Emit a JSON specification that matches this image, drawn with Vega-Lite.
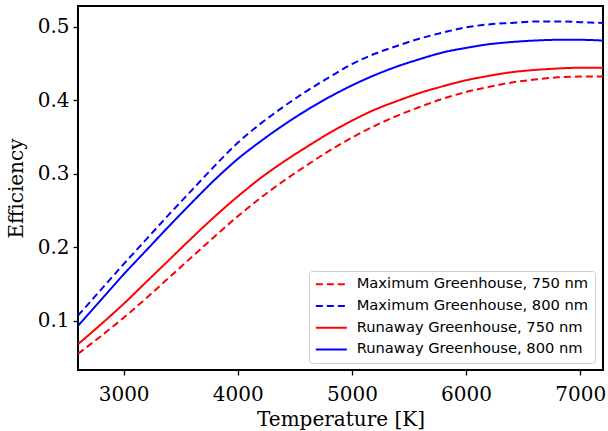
{
  "$schema": "https://vega.github.io/schema/vega-lite/v6.json",
  "width": 525,
  "height": 364,
  "autosize": {"type": "none"},
  "padding": {"left": 78, "top": 6, "right": 5, "bottom": 61},
  "background": "white",
  "config": {
    "view": {"stroke": "black", "strokeWidth": 2},
    "axis": {
      "domain": false,
      "grid": false,
      "labelFont": "DejaVu Serif",
      "labelFontSize": 20,
      "labelColor": "black",
      "titleFont": "DejaVu Serif",
      "titleFontSize": 20,
      "titleFontWeight": "normal",
      "titleColor": "black",
      "tickColor": "black",
      "tickSize": 5,
      "tickWidth": 1.3
    },
    "legend": {
      "labelFont": "DejaVu Sans",
      "labelFontSize": 14.7,
      "labelColor": "black",
      "labelLimit": 0
    }
  },
  "data": {"values": [
    {"series": "Maximum Greenhouse, 750 nm", "T": 2600, "eff": 0.055},
    {"series": "Maximum Greenhouse, 750 nm", "T": 2800, "eff": 0.079},
    {"series": "Maximum Greenhouse, 750 nm", "T": 3000, "eff": 0.104},
    {"series": "Maximum Greenhouse, 750 nm", "T": 3200, "eff": 0.131},
    {"series": "Maximum Greenhouse, 750 nm", "T": 3400, "eff": 0.159},
    {"series": "Maximum Greenhouse, 750 nm", "T": 3600, "eff": 0.187},
    {"series": "Maximum Greenhouse, 750 nm", "T": 3800, "eff": 0.215},
    {"series": "Maximum Greenhouse, 750 nm", "T": 4000, "eff": 0.242},
    {"series": "Maximum Greenhouse, 750 nm", "T": 4200, "eff": 0.267},
    {"series": "Maximum Greenhouse, 750 nm", "T": 4400, "eff": 0.290},
    {"series": "Maximum Greenhouse, 750 nm", "T": 4600, "eff": 0.311},
    {"series": "Maximum Greenhouse, 750 nm", "T": 4800, "eff": 0.331},
    {"series": "Maximum Greenhouse, 750 nm", "T": 5000, "eff": 0.349},
    {"series": "Maximum Greenhouse, 750 nm", "T": 5200, "eff": 0.365},
    {"series": "Maximum Greenhouse, 750 nm", "T": 5400, "eff": 0.379},
    {"series": "Maximum Greenhouse, 750 nm", "T": 5600, "eff": 0.391},
    {"series": "Maximum Greenhouse, 750 nm", "T": 5800, "eff": 0.402},
    {"series": "Maximum Greenhouse, 750 nm", "T": 6000, "eff": 0.411},
    {"series": "Maximum Greenhouse, 750 nm", "T": 6200, "eff": 0.418},
    {"series": "Maximum Greenhouse, 750 nm", "T": 6400, "eff": 0.424},
    {"series": "Maximum Greenhouse, 750 nm", "T": 6600, "eff": 0.428},
    {"series": "Maximum Greenhouse, 750 nm", "T": 6800, "eff": 0.431},
    {"series": "Maximum Greenhouse, 750 nm", "T": 7000, "eff": 0.432},
    {"series": "Maximum Greenhouse, 750 nm", "T": 7200, "eff": 0.432},
    {"series": "Maximum Greenhouse, 800 nm", "T": 2600, "eff": 0.107},
    {"series": "Maximum Greenhouse, 800 nm", "T": 2800, "eff": 0.142},
    {"series": "Maximum Greenhouse, 800 nm", "T": 3000, "eff": 0.177},
    {"series": "Maximum Greenhouse, 800 nm", "T": 3200, "eff": 0.211},
    {"series": "Maximum Greenhouse, 800 nm", "T": 3400, "eff": 0.245},
    {"series": "Maximum Greenhouse, 800 nm", "T": 3600, "eff": 0.278},
    {"series": "Maximum Greenhouse, 800 nm", "T": 3800, "eff": 0.311},
    {"series": "Maximum Greenhouse, 800 nm", "T": 4000, "eff": 0.342},
    {"series": "Maximum Greenhouse, 800 nm", "T": 4200, "eff": 0.368},
    {"series": "Maximum Greenhouse, 800 nm", "T": 4400, "eff": 0.391},
    {"series": "Maximum Greenhouse, 800 nm", "T": 4600, "eff": 0.412},
    {"series": "Maximum Greenhouse, 800 nm", "T": 4800, "eff": 0.431},
    {"series": "Maximum Greenhouse, 800 nm", "T": 5000, "eff": 0.449},
    {"series": "Maximum Greenhouse, 800 nm", "T": 5200, "eff": 0.463},
    {"series": "Maximum Greenhouse, 800 nm", "T": 5400, "eff": 0.474},
    {"series": "Maximum Greenhouse, 800 nm", "T": 5600, "eff": 0.484},
    {"series": "Maximum Greenhouse, 800 nm", "T": 5800, "eff": 0.492},
    {"series": "Maximum Greenhouse, 800 nm", "T": 6000, "eff": 0.499},
    {"series": "Maximum Greenhouse, 800 nm", "T": 6200, "eff": 0.503},
    {"series": "Maximum Greenhouse, 800 nm", "T": 6400, "eff": 0.505},
    {"series": "Maximum Greenhouse, 800 nm", "T": 6600, "eff": 0.507},
    {"series": "Maximum Greenhouse, 800 nm", "T": 6800, "eff": 0.507},
    {"series": "Maximum Greenhouse, 800 nm", "T": 7000, "eff": 0.506},
    {"series": "Maximum Greenhouse, 800 nm", "T": 7200, "eff": 0.505},
    {"series": "Runaway Greenhouse, 750 nm", "T": 2600, "eff": 0.068},
    {"series": "Runaway Greenhouse, 750 nm", "T": 2800, "eff": 0.095},
    {"series": "Runaway Greenhouse, 750 nm", "T": 3000, "eff": 0.123},
    {"series": "Runaway Greenhouse, 750 nm", "T": 3200, "eff": 0.153},
    {"series": "Runaway Greenhouse, 750 nm", "T": 3400, "eff": 0.183},
    {"series": "Runaway Greenhouse, 750 nm", "T": 3600, "eff": 0.213},
    {"series": "Runaway Greenhouse, 750 nm", "T": 3800, "eff": 0.242},
    {"series": "Runaway Greenhouse, 750 nm", "T": 4000, "eff": 0.269},
    {"series": "Runaway Greenhouse, 750 nm", "T": 4200, "eff": 0.294},
    {"series": "Runaway Greenhouse, 750 nm", "T": 4400, "eff": 0.316},
    {"series": "Runaway Greenhouse, 750 nm", "T": 4600, "eff": 0.336},
    {"series": "Runaway Greenhouse, 750 nm", "T": 4800, "eff": 0.355},
    {"series": "Runaway Greenhouse, 750 nm", "T": 5000, "eff": 0.372},
    {"series": "Runaway Greenhouse, 750 nm", "T": 5200, "eff": 0.387},
    {"series": "Runaway Greenhouse, 750 nm", "T": 5400, "eff": 0.399},
    {"series": "Runaway Greenhouse, 750 nm", "T": 5600, "eff": 0.410},
    {"series": "Runaway Greenhouse, 750 nm", "T": 5800, "eff": 0.419},
    {"series": "Runaway Greenhouse, 750 nm", "T": 6000, "eff": 0.427},
    {"series": "Runaway Greenhouse, 750 nm", "T": 6200, "eff": 0.433},
    {"series": "Runaway Greenhouse, 750 nm", "T": 6400, "eff": 0.438},
    {"series": "Runaway Greenhouse, 750 nm", "T": 6600, "eff": 0.441},
    {"series": "Runaway Greenhouse, 750 nm", "T": 6800, "eff": 0.443},
    {"series": "Runaway Greenhouse, 750 nm", "T": 7000, "eff": 0.444},
    {"series": "Runaway Greenhouse, 750 nm", "T": 7200, "eff": 0.444},
    {"series": "Runaway Greenhouse, 800 nm", "T": 2600, "eff": 0.093},
    {"series": "Runaway Greenhouse, 800 nm", "T": 2800, "eff": 0.128},
    {"series": "Runaway Greenhouse, 800 nm", "T": 3000, "eff": 0.163},
    {"series": "Runaway Greenhouse, 800 nm", "T": 3200, "eff": 0.196},
    {"series": "Runaway Greenhouse, 800 nm", "T": 3400, "eff": 0.229},
    {"series": "Runaway Greenhouse, 800 nm", "T": 3600, "eff": 0.261},
    {"series": "Runaway Greenhouse, 800 nm", "T": 3800, "eff": 0.292},
    {"series": "Runaway Greenhouse, 800 nm", "T": 4000, "eff": 0.320},
    {"series": "Runaway Greenhouse, 800 nm", "T": 4200, "eff": 0.344},
    {"series": "Runaway Greenhouse, 800 nm", "T": 4400, "eff": 0.366},
    {"series": "Runaway Greenhouse, 800 nm", "T": 4600, "eff": 0.386},
    {"series": "Runaway Greenhouse, 800 nm", "T": 4800, "eff": 0.404},
    {"series": "Runaway Greenhouse, 800 nm", "T": 5000, "eff": 0.420},
    {"series": "Runaway Greenhouse, 800 nm", "T": 5200, "eff": 0.434},
    {"series": "Runaway Greenhouse, 800 nm", "T": 5400, "eff": 0.446},
    {"series": "Runaway Greenhouse, 800 nm", "T": 5600, "eff": 0.456},
    {"series": "Runaway Greenhouse, 800 nm", "T": 5800, "eff": 0.465},
    {"series": "Runaway Greenhouse, 800 nm", "T": 6000, "eff": 0.471},
    {"series": "Runaway Greenhouse, 800 nm", "T": 6200, "eff": 0.476},
    {"series": "Runaway Greenhouse, 800 nm", "T": 6400, "eff": 0.479},
    {"series": "Runaway Greenhouse, 800 nm", "T": 6600, "eff": 0.481},
    {"series": "Runaway Greenhouse, 800 nm", "T": 6800, "eff": 0.482},
    {"series": "Runaway Greenhouse, 800 nm", "T": 7000, "eff": 0.482},
    {"series": "Runaway Greenhouse, 800 nm", "T": 7200, "eff": 0.481}
  ]},
  "mark": {"type": "line", "strokeWidth": 2, "interpolate": "monotone", "clip": true},
  "encoding": {
    "x": {
      "field": "T", "type": "quantitative",
      "scale": {"domain": [2600, 7200], "nice": false, "zero": false},
      "axis": {"title": "Temperature [K]", "values": [3000, 4000, 5000, 6000, 7000], "format": "d", "labelPadding": 9, "titlePadding": 5}
    },
    "y": {
      "field": "eff", "type": "quantitative",
      "scale": {"domain": [0.033, 0.528], "nice": false, "zero": false},
      "axis": {"title": "Efficiency", "values": [0.1, 0.2, 0.3, 0.4, 0.5], "format": ".1f", "labelPadding": 4, "titlePadding": 11}
    },
    "color": {
      "field": "series", "type": "nominal",
      "scale": {
        "domain": ["Maximum Greenhouse, 750 nm", "Maximum Greenhouse, 800 nm", "Runaway Greenhouse, 750 nm", "Runaway Greenhouse, 800 nm"],
        "range": ["#ff0000", "#0000ff", "#ff0000", "#0000ff"]
      },
      "legend": {
        "title": null,
        "orient": "none",
        "legendX": 231,
        "legendY": 265,
        "symbolType": "M-3,0L3,0",
        "symbolSize": 107,
        "symbolStrokeWidth": 2,
        "symbolOffset": 9,
        "labelOffset": 18,
        "rowPadding": 5.7,
        "padding": 6,
        "fillColor": "white",
        "strokeColor": "#cccccc",
        "cornerRadius": 3
      }
    },
    "strokeDash": {
      "field": "series", "type": "nominal",
      "scale": {
        "domain": ["Maximum Greenhouse, 750 nm", "Maximum Greenhouse, 800 nm", "Runaway Greenhouse, 750 nm", "Runaway Greenhouse, 800 nm"],
        "range": [[7, 4], [7, 4], [1, 0], [1, 0]]
      }
    }
  }
}
